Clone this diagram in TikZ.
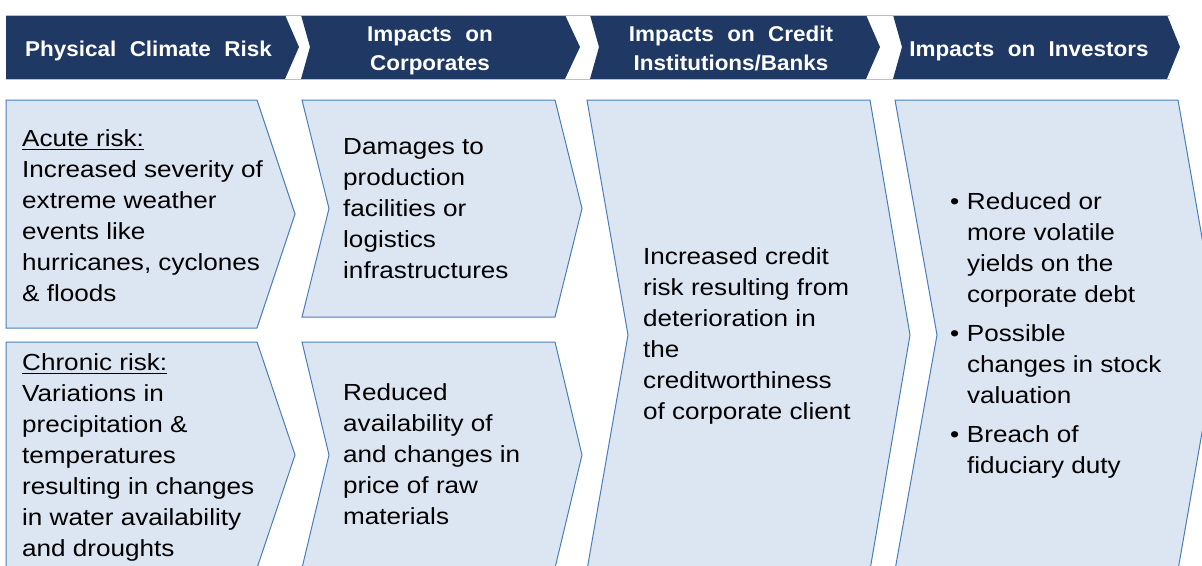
\documentclass[tikz,border=0pt]{standalone}
\usepackage{fontspec}
\setmainfont{Liberation Sans}
\usepackage{graphicx}
\definecolor{navy}{HTML}{1F3864}
\definecolor{boxfill}{HTML}{DCE6F2}
\definecolor{boxline}{HTML}{4A7EBB}
\definecolor{frameline}{HTML}{BFBFBF}
\newcommand\bodytxt[1]{\scalebox{1.12}[1]{\parbox[t]{300pt}{\raggedright\fontsize{23.3}{31}\selectfont #1}}}
\newcommand\hdtxt[1]{\scalebox{1.05}[1]{\fontsize{21.4}{29.5}\selectfont\bfseries\begin{tabular}[t]{@{}c@{}}#1\end{tabular}}}
\newcommand\ws{\hspace{0.6em}}
\newcommand\ulx[1]{\leavevmode\setbox0\hbox{#1}\rlap{\rule[-3.5pt]{\wd0}{1pt}}\box0}
\newcommand\bul{\makebox[15pt][l]{•}}
\newcommand\cont{\hspace*{15pt}}
\begin{document}
\begin{tikzpicture}[x=1pt,y=-1pt,
  hdr/.style={fill=navy},
  card/.style={fill=boxfill,draw=boxline,line width=1pt,line join=miter},
  hdlabel/.style={text=white,inner sep=0pt,anchor=base},
  bodylabel/.style={text=black,inner sep=0pt,anchor=base west}]
\useasboundingbox (0,0) rectangle (1202,565);
\clip (0,0) rectangle (1202,565);
% header chevrons
\fill[hdr] (6,15) -- (285,15) -- (299,47) -- (285,79) -- (6,79) -- cycle;
\fill[hdr] (301,15) -- (565,15) -- (580,47) -- (565,79) -- (301,79) -- (310,47) -- cycle;
\fill[hdr] (590,15) -- (866,15) -- (880,47) -- (866,79) -- (590,79) -- (599,47) -- cycle;
\fill[hdr] (893,15) -- (1167,15) -- (1180,47) -- (1167,79) -- (893,79) -- (902,47) -- cycle;
\draw[frameline,line width=0.8pt] (6,15) -- (1170,15);
\draw[frameline,line width=0.8pt] (6,79) -- (1170,79);
% header labels
\node[hdlabel] (h1) at (148.5,56) {\hdtxt{Physical\ws Climate\ws Risk}};
\node[hdlabel] (h2) at (430,41) {\hdtxt{Impacts\ws on\\Corporates}};
\node[hdlabel] (h3) at (731,41) {\hdtxt{Impacts\ws on\ws Credit\\Institutions/Banks}};
\node[hdlabel] (h4) at (1029,56) {\hdtxt{Impacts\ws on\ws Investors}};
% body chevrons
\draw[card] (6,100) -- (257,100) -- (295,214) -- (257,328) -- (6,328) -- cycle;
\draw[card] (6,342) -- (257,342) -- (295,455) -- (257,568) -- (6,568) -- cycle;
\draw[card] (302,100) -- (555,100) -- (582,208.5) -- (555,317) -- (302,317) -- (329,208.5) -- cycle;
\draw[card] (302,342) -- (555,342) -- (582,455) -- (555,568) -- (302,568) -- (329,455) -- cycle;
\draw[card] (587,100) -- (870,100) -- (910,335) -- (870,570) -- (587,570) -- (628,335) -- cycle;
\draw[card] (895,100) -- (1178,100) -- (1219,335) -- (1178,570) -- (895,570) -- (937,335) -- cycle;
% body texts
\node[bodylabel] (acute) at (22,146) {\bodytxt{\ulx{Acute risk:}\\Increased severity of\\extreme weather\\events like\\hurricanes, cyclones\\\& floods}};
\node[bodylabel] (chronic) at (22,370) {\bodytxt{\ulx{Chronic risk:}\\Variations in\\precipitation \&\\temperatures\\resulting in changes\\in water availability\\and droughts}};
\node[bodylabel] (damages) at (343,154) {\bodytxt{Damages to\\production\\facilities or\\logistics\\infrastructures}};
\node[bodylabel] (reduced) at (343,400) {\bodytxt{Reduced\\availability of\\and changes in\\price of raw\\materials}};
\node[bodylabel] (credit) at (643,264) {\bodytxt{Increased credit\\risk resulting from\\deterioration in\\the\\creditworthiness\\of corporate client}};
\node[bodylabel] (investors) at (950,209) {\bodytxt{\bul Reduced or\\\cont more volatile\\\cont yields on the\\\cont corporate debt\\[8pt]\bul Possible\\\cont changes in stock\\\cont valuation\\[8pt]\bul Breach of\\\cont fiduciary duty}};
\end{tikzpicture}
\end{document}
